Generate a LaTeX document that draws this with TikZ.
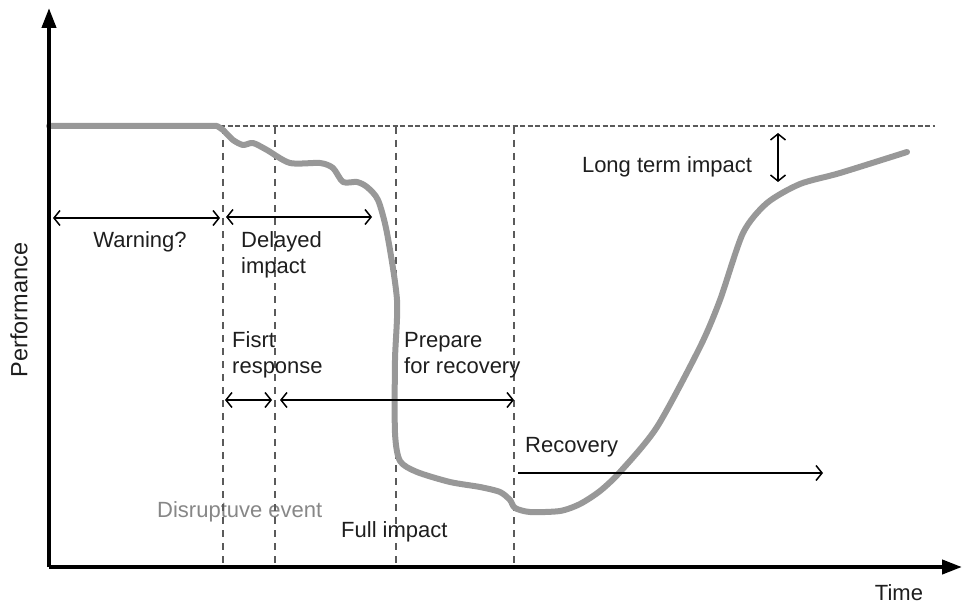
\documentclass[tikz,border=0pt]{standalone}
\usepackage{fontspec}
\setmainfont{Liberation Sans}
\usetikzlibrary{arrows.meta}
\definecolor{curvegray}{RGB}{152,152,152}
\definecolor{dashgray}{RGB}{90,90,90}
\definecolor{txt}{RGB}{30,30,30}
\definecolor{evgray}{RGB}{135,135,135}
\tikzset{
  lbl/.style={inner sep=0pt, text=txt, font=\fontsize{22}{26}\selectfont, align=left},
  axis/.style={line width=4pt, -{Triangle[length=20pt,width=14pt]}},
  guide/.style={dashgray, line width=1.5pt, dash pattern=on 7pt off 6pt},
  hguide/.style={dashgray, line width=1.5pt, dash pattern=on 5pt off 2.5pt},
  span/.style={line width=1.5pt, black, {Straight Barb[length=6pt,width=15pt]}-{Straight Barb[length=6pt,width=15pt]}},
  onearrow/.style={line width=1.5pt, black, -{Straight Barb[length=6pt,width=15pt]}},
  perf/.style={curvegray, line width=6pt, line join=round, line cap=round}
}
\begin{document}
\begin{tikzpicture}[x=1pt,y=-1pt]
\useasboundingbox (0,0) rectangle (963,604);
% coordinates
\coordinate (o) at (49,567);
\coordinate (ytop) at (49,8);
\coordinate (xend) at (962,567);
\coordinate (h1) at (220,126);
\coordinate (h2) at (935,126);
\foreach \n/\x in {v1/223,v2/275,v3/396,v4/514}{
  \coordinate (\n t) at (\x,127);
  \coordinate (\n b) at (\x,567);
}
\coordinate (w1) at (53,218);
\coordinate (w2) at (220,218);
\coordinate (d1) at (226,217);
\coordinate (d2) at (372,217);
\coordinate (f1) at (225,400);
\coordinate (f2) at (272,400);
\coordinate (p1) at (280,400);
\coordinate (p2) at (514,400);
\coordinate (r1) at (518,473);
\coordinate (r2) at (823,473);
\coordinate (l1) at (778,133);
\coordinate (l2) at (778,182);

% labels
\node[lbl, text=evgray, anchor=west] (ev) at (157,512) {Disruptuve event};
% guides
\draw[hguide] (h1) -- (h2);
\foreach \n in {v1,v2,v3,v4}{ \draw[guide] (\n t) -- (\n b); }
% curve
\draw[perf] (49,126) -- (217,126)
  plot[smooth, tension=0.45] coordinates {(217,126) (223,130) (233,140) (243,145) (253,143) (267,150) (290,163) (320,163) (333,168) (343,182) (357,182) (367,187) (378,200) (387,233) (397,300) (395,360) (395,433) (400,461) (417,472) (450,482) (480,487) (500,492) (510,500) (515,508) (530,512) (560,511) (580,504) (600,491) (620,472) (657,427) (700,347) (720,300) (743,233) (767,203) (800,184) (840,173) (907,152)};
% axes
\draw[axis] (o) -- (ytop);
\draw[axis] (o) -- (xend);
% spans
\draw[span] (w1) -- (w2);
\draw[span] (d1) -- (d2);
\draw[span] (f1) -- (f2);
\draw[span] (p1) -- (p2);
\draw[span] (l1) -- (l2);
\draw[onearrow] (r1) -- (r2);
% text
\node[lbl] (warn) at (140,242) {Warning?};
\node[lbl, anchor=west] (delay) at (241,255) {Delayed\\impact};
\node[lbl, anchor=west] (first) at (232,355) {Fisrt\\response};
\node[lbl, anchor=west] (prep) at (404,355) {Prepare\\for recovery};
\node[lbl, anchor=west] (rec) at (525,447) {Recovery};
\node[lbl, anchor=west] (full) at (341,532) {Full impact};
\node[lbl] (long) at (667,167) {Long term impact};
\node[lbl] (time) at (899,593) {Time};
\node[lbl, rotate=90, font=\fontsize{23.5}{28}\selectfont] (perfl) at (19,310) {Performance};
\end{tikzpicture}
\end{document}
